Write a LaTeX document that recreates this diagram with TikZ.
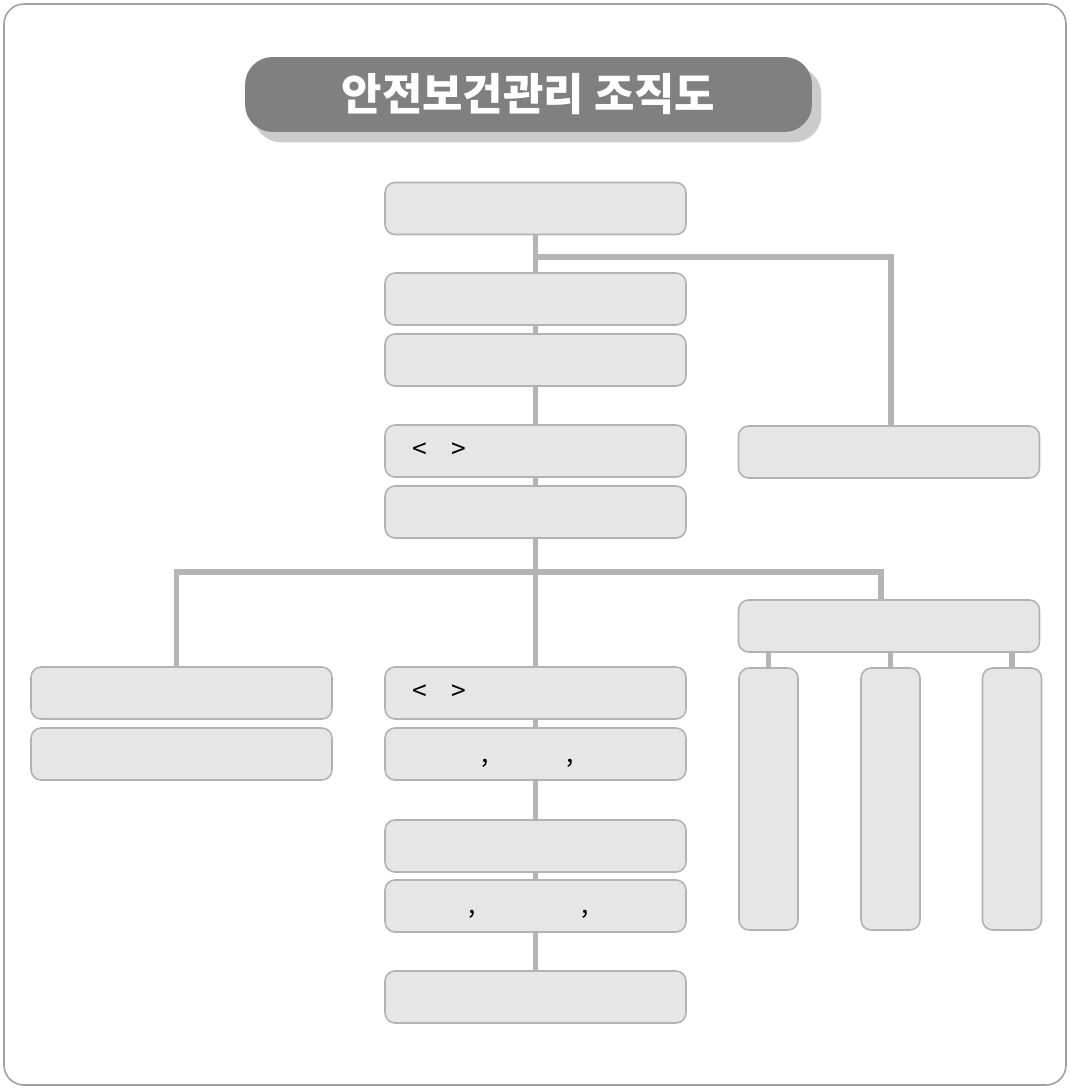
\documentclass[tikz,border=0pt]{standalone}
\usepackage{fontspec}
\setmainfont{Noto Sans CJK KR}
\usetikzlibrary{positioning, backgrounds, calc}
\definecolor{boxfill}{RGB}{230,230,230}
\definecolor{boxline}{RGB}{178,178,178}
\definecolor{linkgray}{RGB}{180,180,180}
\definecolor{titlegray}{RGB}{128,128,128}
\definecolor{shadowgray}{RGB}{204,204,204}
\definecolor{framegray}{RGB}{160,160,160}

\begin{document}
\begin{tikzpicture}[x=0.02cm, y=-0.02cm,
    box/.style={draw=boxline, fill=boxfill, line width=0.9pt, rounded corners=0.2cm,
        minimum width=6.02cm, minimum height=1.04cm, inner sep=0pt},
    tallbox/.style={box, minimum width=1.18cm, minimum height=5.24cm},
    titlebox/.style={fill=titlegray, rounded corners=0.55cm, minimum width=11.34cm,
        minimum height=1.5cm, text=white, font=\bfseries\fontsize{25}{28}\selectfont},
    link/.style={draw=linkgray, line width=3.4pt},
    signtxt/.style={font=\fontsize{15}{17}\selectfont, inner sep=0pt}]

\useasboundingbox (0,0) rectangle (1070,1089);

% Cadre
\draw[framegray, line width=0.9pt, rounded corners=0.4cm] (4,4) rectangle (1066,1085);

% Titre
\node[titlebox] (title) at (528.5,94.5) {안전보건관리 조직도};

% Colonne centrale
\node[box] (b1) at (535.5,208.5) {};
\node[box] (b2) at (535.5,299) {};
\node[box] (b3) at (535.5,360) {};
\node[box] (b4) at (535.5,451) {};
\node[box] (b5) at (535.5,512) {};
\node[box] (c6) at (535.5,693) {};
\node[box] (c7) at (535.5,754) {};
\node[box] (c8) at (535.5,846) {};
\node[box] (c9) at (535.5,906) {};
\node[box] (c10) at (535.5,997) {};

% Branche droite
\node[box] (r1) at (889,452) {};
\node[box] (rh) at (889,626) {};
\node[tallbox] (v1) at (768.5,799) {};
\node[tallbox] (v2) at (890.5,799) {};
\node[tallbox] (v3) at (1012,799) {};

% Branche gauche
\node[box] (l1) at (181.5,693) {};
\node[box] (l2) at (181.5,754) {};

% Signes dans les boites
\node[signtxt] (b4lt) at (420,451) {<};
\node[signtxt] (b4gt) at (459,451) {>};
\node[signtxt] (c6lt) at (420,693) {<};
\node[signtxt] (c6gt) at (459,693) {>};
\node[signtxt, anchor=base] (c7ca) at (485,762) {,};
\node[signtxt, anchor=base] (c7cb) at (570,762) {,};
\node[signtxt, anchor=base] (c9ca) at (472,913) {,};
\node[signtxt, anchor=base] (c9cb) at (585,913) {,};

% Liaisons
\begin{pgfonlayer}{background}
\fill[shadowgray, rounded corners=0.55cm] ([shift={(9,10)}]title.south west) rectangle ([shift={(9,10)}]title.north east);
\coordinate (j1) at (535.5,257);
\coordinate (j2) at (535.5,572);
\draw[link] (b1.south) -- (c10.north);
\draw[link] (j1) -| ($(r1.north)+(2,0)$);
\draw[link] ($(l1.north)+(-5,0)$) |- (j2) -| ($(rh.north)+(-8,0)$);
\foreach \v in {v1, v2, v3} {
    \draw[link] (rh.south -| \v.north) -- (\v.north);
}
\end{pgfonlayer}

\end{tikzpicture}
\end{document}
